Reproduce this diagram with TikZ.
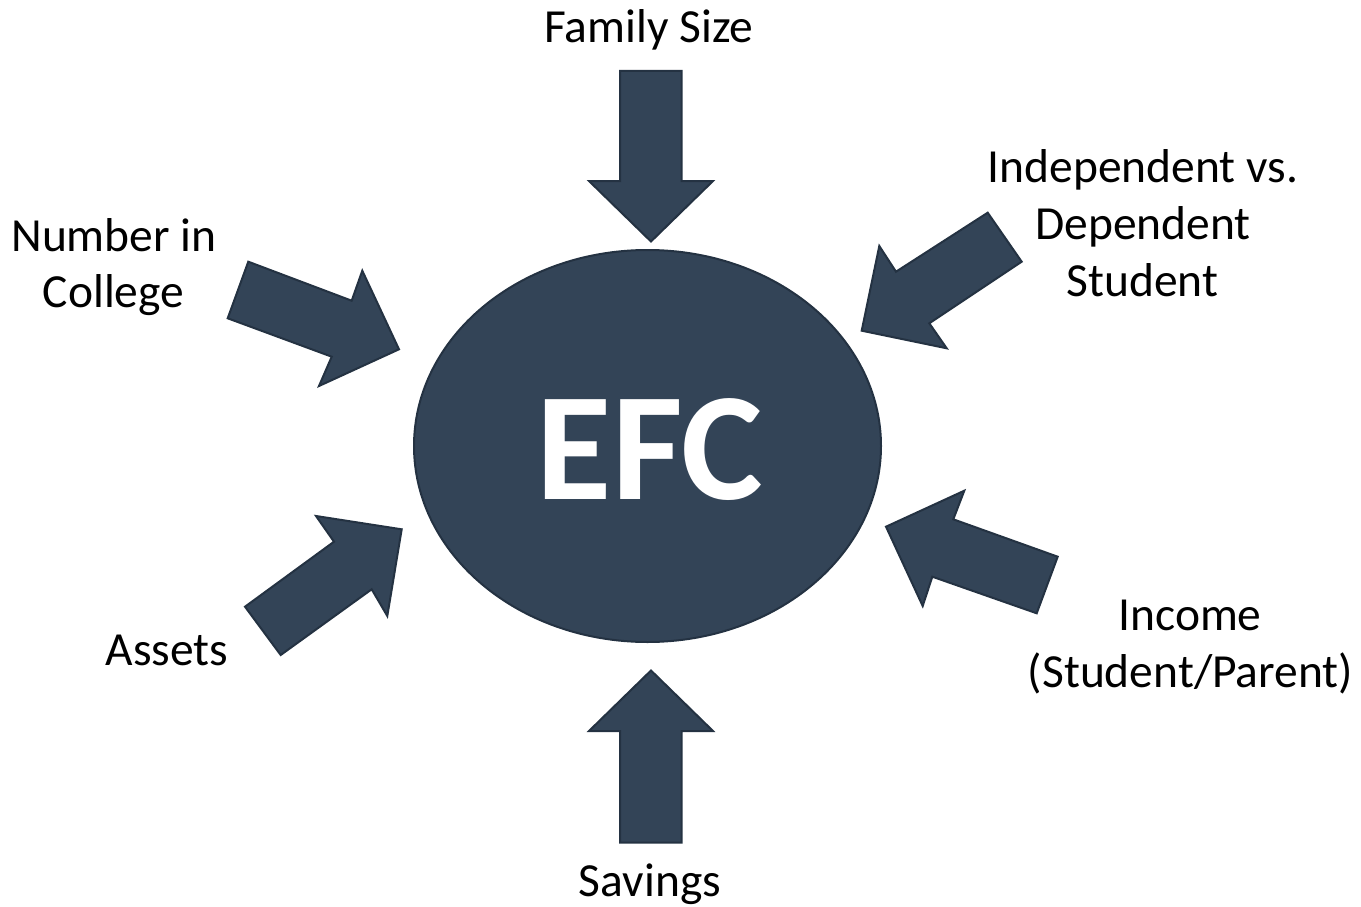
\documentclass[tikz,border=0pt]{standalone}
\usepackage{fontspec}
\setmainfont{Carlito}
\definecolor{arrfill}{RGB}{51,68,87}
\definecolor{arrline}{RGB}{36,50,66}
\tikzset{
  blockarrow/.style={fill=arrfill, draw=arrline, line width=2pt, line join=miter},
  lbl/.style={anchor=base, inner sep=0pt, font=\fontsize{47.5}{57}\selectfont, text=black},
  hub/.style={ellipse, fill=arrfill, draw=arrline, line width=2pt, minimum width=467pt, minimum height=392pt, inner sep=0pt}
}
\usetikzlibrary{shapes.geometric}
\begin{document}
\begin{tikzpicture}[x=1pt,y=-1pt]
\useasboundingbox (0,0) rectangle (1361,907);
% central ellipse
\node[hub] (efc) at (647.5,446) {};
\node[anchor=base, inner sep=0pt, text=white, font=\fontsize{154}{170}\selectfont\bfseries] (efctext) at (650,499) {EFC};
% top arrow (Family Size)
\draw[blockarrow] (620,71) -- (681.5,71) -- (681.5,181) -- (713,181) -- (651,241.5) -- (589,181) -- (620,181) -- cycle;
% bottom arrow (Savings)
\draw[blockarrow] (620,842.5) -- (681.5,842.5) -- (681.5,731) -- (713,731) -- (651,670.5) -- (589,731) -- (620,731) -- cycle;
% upper-left arrow (Number in College)
\draw[blockarrow] (248.3,261.7) -- (351.7,300.7) -- (362.3,270.7) -- (399,349.3) -- (319,386) -- (331.7,356.7) -- (227.7,318.3) -- cycle;
% upper-right arrow (Independent vs. Dependent Student)
\draw[blockarrow] (987.7,212.7) -- (896,271.7) -- (879.3,246) -- (861.7,330.7) -- (946.7,348.3) -- (929.3,323.3) -- (1021.7,261.7) -- cycle;
% lower-left arrow (Assets)
\draw[blockarrow] (245,606.7) -- (334,541.7) -- (316,516) -- (401.7,529.3) -- (387.3,616) -- (371.7,589.3) -- (280.7,655) -- cycle;
% lower-right arrow (Income)
\draw[blockarrow] (1057.7,556.7) -- (953.3,519.3) -- (964.3,490.7) -- (886,526.7) -- (922.7,606) -- (932.3,576.7) -- (1036.7,613.3) -- cycle;
% labels
\node[lbl] (family) at (649,43) {Family Size};
\node[lbl] (num1) at (114,251) {Number in};
\node[lbl] (num2) at (113.5,307) {College};
\node[lbl] (ind1) at (1143,182) {Independent vs.};
\node[lbl] (ind2) at (1143,239) {Dependent};
\node[lbl] (ind3) at (1142.5,296) {Student};
\node[lbl] (assets) at (167,665) {Assets};
\node[lbl] (inc1) at (1190,630) {Income};
\node[lbl] (inc2) at (1190.5,687) {(Student/Parent)};
\node[lbl] (savings) at (650,896) {Savings};
\end{tikzpicture}
\end{document}
